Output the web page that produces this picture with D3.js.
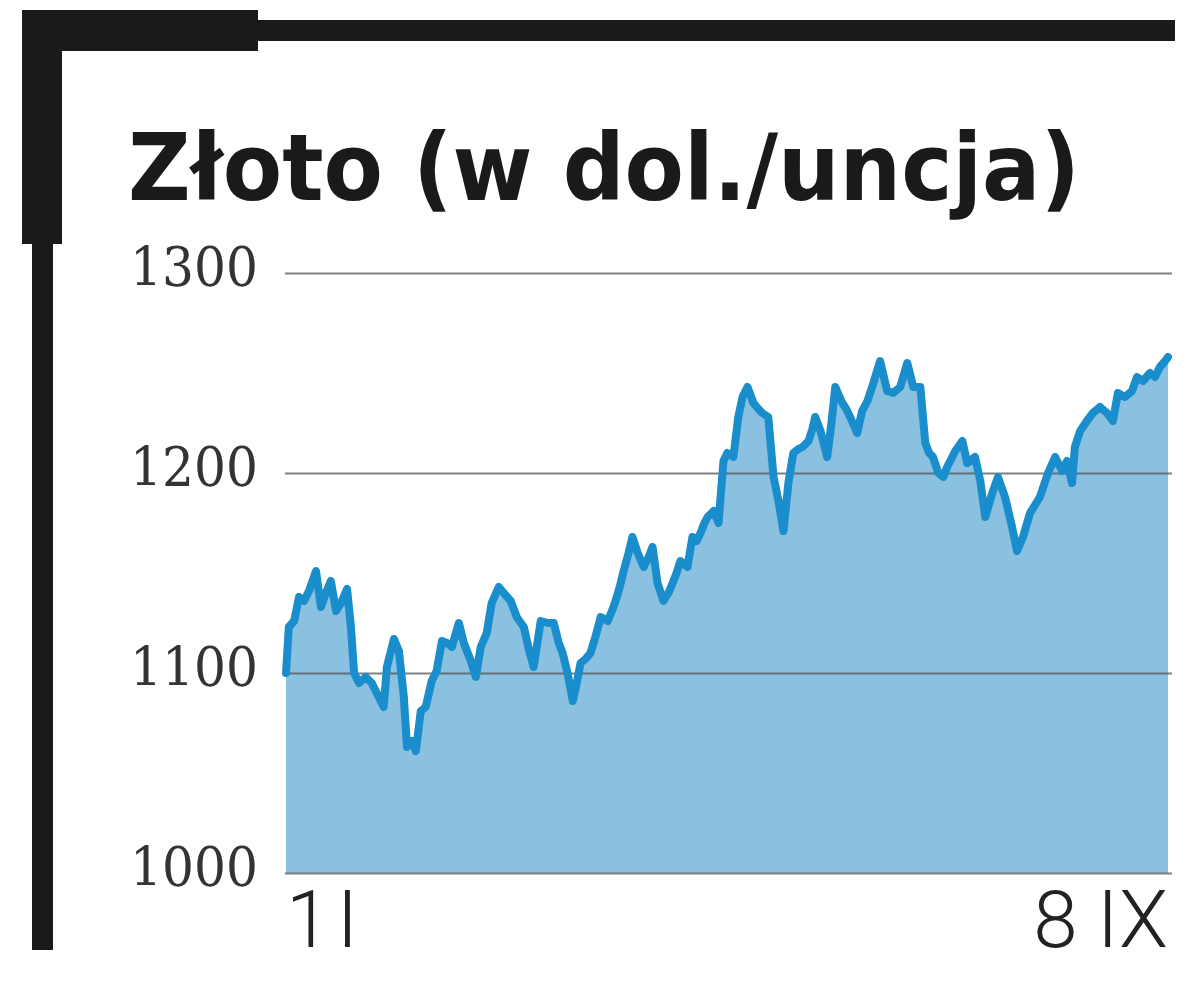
<!DOCTYPE html>
<html>
<head>
<meta charset="utf-8">
<script src="https://cdn.jsdelivr.net/npm/d3@7/dist/d3.min.js"></script>
<style>
  html, body { margin: 0; padding: 0; background: #fff; }
  svg { display: block; }
</style>
</head>
<body>
<svg id="chart" width="1200" height="1006"></svg>
<script>
// ---- data ----
const title = "Złoto (w dol./uncja)";
const yTicks = [1000, 1100, 1200, 1300];
const xTickLabels = ["1 I", "8 IX"];
// day offsets since 1 January
const days = [0,0.8,2.3,3.7,5.1,6.5,8.5,9.9,11.3,12.7,14.2,15.6,17.3,18.4,19.3,20.7,22.6,24.3,26.3,27.7,
  28.6,30.6,32.0,33.4,34.3,35.7,36.8,38.2,39.6,41.3,42.7,44.2,45.6,47.0,49.0,50.4,52.4,53.8,55.2,56.9,
  58.3,60.3,61.7,63.7,65.4,67.4,68.8,70.2,72.2,74.2,75.9,77.3,78.4,79.8,81.3,82.4,83.5,84.9,86.3,87.7,
  89.2,91.2,92.6,93.4,94.6,95.7,97.1,98.2,99.7,101.4,102.8,103.9,105.3,107.0,108.4,109.6,110.7,111.8,113.8,115.2,
  116.4,117.5,118.6,119.5,121.2,122.6,124.0,125.1,126.8,128.2,129.4,130.8,132.5,133.9,135.0,136.7,138.2,139.6,141.0,142.4,
  143.8,145.2,146.4,148.1,149.2,150.0,151.5,153.4,154.6,155.7,157.7,158.8,159.9,161.9,163.3,164.8,166.5,168.4,170.4,172.1,
  174.1,176.1,177.8,179.8,181.2,182.3,183.4,184.9,186.3,187.4,189.7,191.7,193.1,195.3,196.8,198.2,200.2,201.8,203.8,205.8,
  207.2,208.9,210.9,212.3,213.7,216.0,218.0,220.0,221.4,222.8,223.6,225.1,227.0,228.7,230.7,232.7,234.4,235.8,237.8,239.8,
  241.2,242.9,244.9,246.3,247.7,249.2,250.0];
// gold price, USD per ounce
const prices = [1100,1123,1126,1138,1136,1141,1151,1133,1140,1146,1131,1135,1142,1123,1100,1095,1098,1095,1088,1083,
  1103,1117,1111,1088,1063,1066,1061,1081,1083,1096,1101,1116,1115,1113,1125,1115,1106,1098,1113,1120,
  1135,1143,1140,1136,1128,1123,1112,1103,1126,1125,1125,1115,1110,1100,1086,1095,1105,1107,1110,1118,
  1128,1126,1132,1136,1143,1151,1160,1168,1160,1153,1158,1163,1145,1136,1140,1145,1150,1156,1153,1168,
  1166,1170,1175,1178,1181,1175,1206,1210,1208,1228,1238,1243,1235,1232,1230,1228,1198,1186,1171,1195,
  1210,1212,1213,1216,1222,1228,1221,1208,1225,1243,1235,1232,1228,1220,1231,1236,1245,1256,1241,1240,
  1243,1255,1243,1243,1215,1210,1208,1200,1198,1203,1211,1216,1205,1208,1196,1178,1190,1198,1188,1173,
  1161,1168,1180,1184,1188,1200,1208,1201,1206,1195,1213,1221,1226,1230,1233,1230,1226,1240,1238,1241,
  1248,1246,1250,1248,1253,1256,1258];

const data = days.map((d, i) => ({ d, v: prices[i] }));

const svg = d3.select("#chart");

// ---- decorative frame ----
const frame = svg.append("g").attr("fill", "#1a1a1a");
frame.append("rect").attr("x", 22).attr("y", 10).attr("width", 236).attr("height", 41);
frame.append("rect").attr("x", 22).attr("y", 10).attr("width", 40).attr("height", 234);
frame.append("rect").attr("x", 256).attr("y", 20).attr("width", 919).attr("height", 21);
frame.append("rect").attr("x", 32).attr("y", 240).attr("width", 21).attr("height", 710);

// ---- title ----
svg.append("text")
  .attr("x", 128).attr("y", 200)
  .attr("font-family", "DejaVu Sans").attr("font-weight", "bold")
  .attr("font-size", 92)
  .attr("textLength", 952).attr("lengthAdjust", "spacingAndGlyphs")
  .attr("fill", "#1a1a1a")
  .text(title);

// ---- scales ----
const x = d3.scaleLinear().domain([0, 250]).range([286, 1168]);
const y = d3.scaleLinear().domain([1000, 1300]).range([873, 273]);

// ---- area ----
const area = d3.area().x(d => x(d.d)).y0(y(1000)).y1(d => y(d.v));
svg.append("path").datum(data).attr("d", area).attr("fill", "#8ac0e0");

// ---- grid ----
const yAxis = d3.axisLeft(y).tickValues(yTicks).tickSize(-(1172 - 285)).tickFormat("");
const gy = svg.append("g").attr("transform", "translate(285,0)").call(yAxis);
gy.select(".domain").remove();
gy.selectAll(".tick line").attr("stroke", "#555").attr("stroke-opacity", 0.75).attr("stroke-width", 2);

// ---- line ----
const line = d3.line().x(d => x(d.d)).y(d => y(d.v));
svg.append("path").datum(data).attr("d", line)
  .attr("fill", "none").attr("stroke", "#1a8dcc").attr("stroke-width", 8)
  .attr("stroke-linejoin", "round").attr("stroke-linecap", "round");

// ---- y labels ----
svg.append("g").selectAll("text").data(yTicks).join("text")
  .attr("x", 258).attr("y", d => y(d) + 13)
  .attr("text-anchor", "end")
  .attr("font-family", "DejaVu Serif").attr("font-size", 54)
  .attr("textLength", 128).attr("lengthAdjust", "spacingAndGlyphs")
  .attr("fill", "#333")
  .text(d => d);

// ---- x labels ----
svg.append("text").attr("x", 286).attr("y", 947)
  .attr("font-family", "Roboto").attr("font-weight", 300).attr("font-size", 80)
  .attr("textLength", 72).attr("lengthAdjust", "spacing")
  .attr("fill", "#222").text(xTickLabels[0]);
svg.append("text").attr("x", 1168).attr("y", 947).attr("text-anchor", "end")
  .attr("font-family", "Roboto").attr("font-weight", 300).attr("font-size", 80)
  .attr("fill", "#222").text(xTickLabels[1]);
</script>
</body>
</html>
